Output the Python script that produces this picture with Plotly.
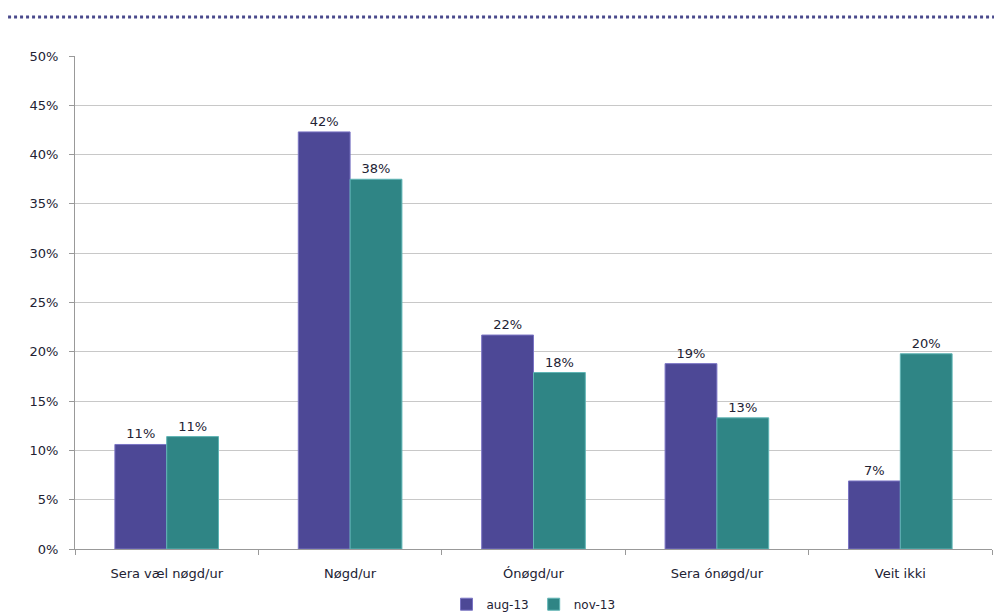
import plotly.graph_objects as go

categories = ["Sera væl nøgd/ur", "Nøgd/ur", "Ónøgd/ur", "Sera ónøgd/ur", "Veit ikki"]
aug_13 = [10.6, 42.3, 21.7, 18.8, 6.9]
nov_13 = [11.4, 37.5, 17.9, 13.3, 19.8]
series_names = ["aug-13", "nov-13"]
y_ticks = [0, 5, 10, 15, 20, 25, 30, 35, 40, 45, 50]

font_family = "Verdana, DejaVu Sans, sans-serif"
text_color = "#222233"

fig = go.Figure()
fig.add_trace(go.Bar(
    x=categories, y=aug_13, name=series_names[0],
    marker=dict(color="#4D4896", line=dict(color="#7A74C4", width=1)),
    text=[f"{round(v)}%" for v in aug_13], textposition="outside",
    textfont=dict(size=13, color=text_color, family=font_family),
    cliponaxis=False,
))
fig.add_trace(go.Bar(
    x=categories, y=nov_13, name=series_names[1],
    marker=dict(color="#2F8585", line=dict(color="#5FB5B5", width=1)),
    text=[f"{round(v)}%" for v in nov_13], textposition="outside",
    textfont=dict(size=13, color=text_color, family=font_family),
    cliponaxis=False,
))

fig.update_layout(
    width=994, height=606,
    margin=dict(l=67, r=10, t=48, b=65, autoexpand=False),
    paper_bgcolor="white", plot_bgcolor="white",
    barmode="group", bargap=0.435, bargroupgap=0,
    font=dict(family=font_family, size=13, color=text_color),
    showlegend=True,
    legend=dict(orientation="h", x=0.5, xanchor="center", y=-0.112, yanchor="middle",
                font=dict(size=12, color=text_color), itemwidth=30,
                traceorder="normal", tracegroupgap=0, bgcolor="rgba(0,0,0,0)"),
    xaxis=dict(showline=True, linecolor="#999999", linewidth=1,
               ticks="outside", tickson="boundaries", ticklen=5, tickcolor="#999999",
               tickfont=dict(size=13, color=text_color), showgrid=False,
               ticklabelstandoff=12, automargin=False),
    yaxis=dict(range=[0, 50], tickvals=y_ticks, ticktext=[f"{v}%" for v in y_ticks],
               showline=True, linecolor="#999999", linewidth=1,
               ticks="outside", ticklen=5, tickcolor="#999999",
               showgrid=True, gridcolor="#C8C8C8", gridwidth=1,
               tickfont=dict(size=13, color=text_color), zeroline=False,
               ticklabelstandoff=8, automargin=False),
    shapes=[dict(type="line", xref="paper", yref="paper",
                 x0=-0.073, x1=1.011, y0=1.079, y1=1.079,
                 line=dict(color="#4A4A8C", width=3, dash="dot"))],
)

fig.write_html("out.html")
